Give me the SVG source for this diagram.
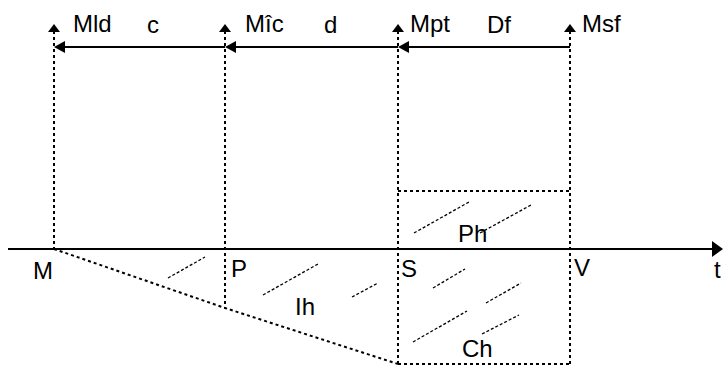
<svg xmlns="http://www.w3.org/2000/svg" width="723" height="367" viewBox="0 0 723 367">
<style>
.t{font-family:"Liberation Sans",Arial,sans-serif;font-size:24px;fill:#000}
.solid{stroke:#000;stroke-width:2;fill:none}
.dash{stroke:#000;stroke-width:2;stroke-dasharray:3 3;fill:none}
.hatch{stroke:#000;stroke-width:1.3;stroke-dasharray:3 2;fill:none}
.head{fill:#000}
</style>
<rect width="723" height="367" fill="#fff"/>
<g id="connectors">
  <line class="solid" x1="8" y1="249" x2="714" y2="249"/>
  <polygon class="head" points="712,241 723,249 712,257"/>
  <line class="dash" x1="54" y1="31" x2="54" y2="249"/>
  <line class="dash" x1="225" y1="31" x2="225" y2="308"/>
  <line class="dash" x1="398" y1="31" x2="398" y2="364"/>
  <line class="dash" x1="570" y1="31" x2="570" y2="364"/>
  <polygon class="head" points="48,32 54,24 60,32"/>
  <polygon class="head" points="219,32 225,24 231,32"/>
  <polygon class="head" points="392,32 398,24 404,32"/>
  <polygon class="head" points="564,32 570,24 576,32"/>
  <line class="solid" x1="62" y1="47" x2="225" y2="47"/>
  <polygon class="head" points="54,47 65,41 65,53"/>
  <line class="solid" x1="233" y1="47" x2="398" y2="47"/>
  <polygon class="head" points="225,47 236,41 236,53"/>
  <line class="solid" x1="406" y1="47" x2="570" y2="47"/>
  <polygon class="head" points="398,47 409,41 409,53"/>
  <line class="dash" x1="398" y1="191" x2="570" y2="191"/>
  <line class="dash" x1="398" y1="364" x2="570" y2="364"/>
  <polyline class="dash" points="54,249 225,308 398,364"/>
  <line class="hatch" x1="168" y1="278" x2="205" y2="257"/>
  <line class="hatch" x1="263" y1="295" x2="318" y2="264"/>
  <line class="hatch" x1="352" y1="297" x2="378" y2="283"/>
  <line class="hatch" x1="414" y1="233" x2="469" y2="202"/>
  <line class="hatch" x1="480" y1="233" x2="531" y2="205"/>
  <line class="hatch" x1="433" y1="288" x2="465" y2="269"/>
  <line class="hatch" x1="486" y1="303" x2="521" y2="283"/>
  <line class="hatch" x1="413" y1="342" x2="467" y2="311"/>
  <line class="hatch" x1="482" y1="334" x2="519" y2="315"/>
</g>
<g id="labels-top">
  <text class="t" x="73" y="32">Mld</text>
  <text class="t" x="147" y="33">c</text>
  <text class="t" x="245" y="32">Mîc</text>
  <text class="t" x="324" y="33">d</text>
  <text class="t" x="410" y="32">Mpt</text>
  <text class="t" x="487" y="33">Df</text>
  <text class="t" x="582" y="32">Msf</text>
</g>
<g id="node-M"><text class="t" x="33" y="279">M</text></g>
<g id="node-P"><text class="t" x="231" y="277">P</text></g>
<g id="node-S"><text class="t" x="401" y="277">S</text></g>
<g id="node-V"><text class="t" x="574" y="276">V</text></g>
<g id="node-t"><text class="t" x="714" y="278">t</text></g>
<g id="node-Ih"><text class="t" x="295" y="315">Ih</text></g>
<g id="node-Ph"><text class="t" x="458" y="242">Ph</text></g>
<g id="node-Ch"><text class="t" x="462" y="357">Ch</text></g>
</svg>
